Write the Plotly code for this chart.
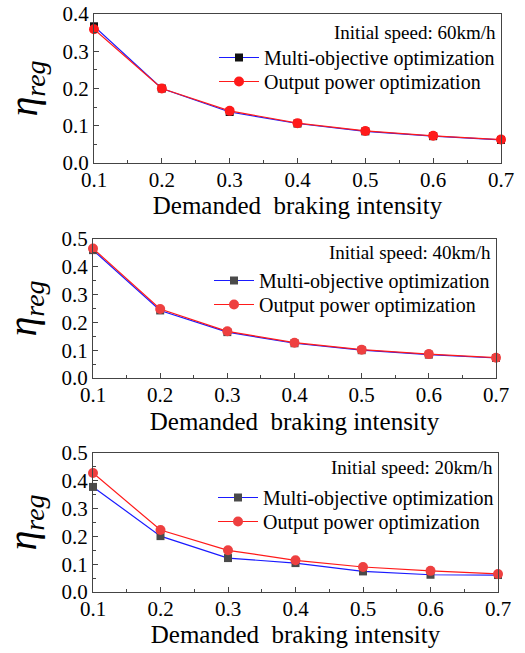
import plotly.graph_objects as go

intensity = [0.1, 0.2, 0.3, 0.4, 0.5, 0.6, 0.7]
multi_60 = [0.367, 0.200, 0.137, 0.106, 0.085, 0.072, 0.062]
output_60 = [0.359, 0.200, 0.140, 0.107, 0.086, 0.073, 0.063]
multi_40 = [0.460, 0.243, 0.165, 0.125, 0.100, 0.084, 0.072]
output_40 = [0.466, 0.248, 0.168, 0.127, 0.102, 0.086, 0.073]
multi_20 = [0.378, 0.201, 0.122, 0.104, 0.074, 0.062, 0.061]
output_20 = [0.428, 0.223, 0.150, 0.114, 0.090, 0.076, 0.065]
speed_labels = ["Initial speed: 60km/h", "Initial speed: 40km/h", "Initial speed: 20km/h"]
series_names = ["Multi-objective optimization", "Output power optimization"]
y_max = [0.4, 0.5, 0.5]

W, H = 525, 653
FONT = "Liberation Serif"

panels = [
    dict(multi=multi_60, output=output_60, label=speed_labels[0], ymax=y_max[0],
         box=(94, 501, 14, 163), msq="#111111", mci="#ff1a1a", leg=(214, 38, 62),
         ann=20, xstand=0),
    dict(multi=multi_40, output=output_40, label=speed_labels[1], ymax=y_max[1],
         box=(93, 496, 239, 378), msq="#4a4a4a", mci="#ee4040", leg=(209, 261, 285),
         ann=240, xstand=6),
    dict(multi=multi_20, output=output_20, label=speed_labels[2], ymax=y_max[2],
         box=(93, 498, 453, 592), msq="#4a4a4a", mci="#ee4040", leg=(213, 478, 502),
         ann=455, xstand=0),
]

fig = go.Figure()
layout = dict(
    width=W, height=H, margin=dict(l=0, r=0, t=0, b=0, autoexpand=False),
    paper_bgcolor="white", plot_bgcolor="white",
    font=dict(family=FONT, color="black"),
    annotations=[],
)

legcount = 1
for i, p in enumerate(panels):
    n = "" if i == 0 else str(i + 1)
    xa, ya = "x" + n, "y" + n
    x0, x1, y0, y1 = p["box"]
    lx, ly1, ly2 = p["leg"]
    specs = [
        (p["multi"], series_names[0], "#1a1aff", "square", 8, p["msq"], ly1),
        (p["output"], series_names[1], "#ff1a1a", "circle", 10, p["mci"], ly2),
    ]
    for vals, name, lcol, sym, msize, mcol, ly in specs:
        legcount += 1
        legname = "legend" + str(legcount)
        fig.add_trace(go.Scatter(
            x=intensity, y=vals, mode="lines+markers", name=name,
            line=dict(color=lcol, width=1.2),
            marker=dict(symbol=sym, size=msize, color=mcol),
            xaxis=xa, yaxis=ya, legend=legname, cliponaxis=False, showlegend=True))
        layout[legname] = dict(
            x=lx / W, y=1 - ly / H, xanchor="left", yanchor="top",
            bgcolor="rgba(0,0,0,0)", borderwidth=0,
            font=dict(family=FONT, size=20, color="black"),
            tracegroupgap=0, itemwidth=40)

    axcommon = dict(showline=True, linecolor="#444444", linewidth=1.3, mirror=True,
                    ticks="inside", ticklen=5, tickcolor="#444444", showgrid=False, zeroline=False,
                    tickfont=dict(family=FONT, size=21, color="black"))
    layout["xaxis" + n] = dict(
        domain=[x0 / W, x1 / W], anchor=ya, range=[0.1, 0.7],
        tickvals=intensity, ticktext=[f"{v:.1f}" for v in intensity],
        ticklabelstandoff=-2,
        minor=dict(ticks="inside", ticklen=3, dtick=0.05, tick0=0.1, tickcolor="#444444"),
        title=dict(text="Demanded&nbsp; braking intensity", font=dict(family=FONT, size=25),
                   standoff=p["xstand"]),
        **axcommon)
    ymax = p["ymax"]
    yt = [round(k * 0.1, 1) for k in range(int(round(ymax * 10)) + 1)]
    layout["yaxis" + n] = dict(
        domain=[1 - y1 / H, 1 - y0 / H], anchor=xa, range=[0, ymax],
        tickvals=yt, ticktext=[f"{v:.1f}" for v in yt],
        minor=dict(ticks="inside", ticklen=3, dtick=0.05, tick0=0, tickcolor="#444444"),
        title=dict(text="<i>η<sub>reg</sub></i>", font=dict(family=FONT, size=40), standoff=12),
        **axcommon)
    layout["annotations"].append(dict(
        text=p["label"], xref="paper", yref="paper",
        x=(x1 - 3) / W, y=1 - p["ann"] / H, xanchor="right", yanchor="top",
        showarrow=False, font=dict(family=FONT, size=19, color="black")))

fig.update_layout(**layout)
fig.write_html("out.html")
